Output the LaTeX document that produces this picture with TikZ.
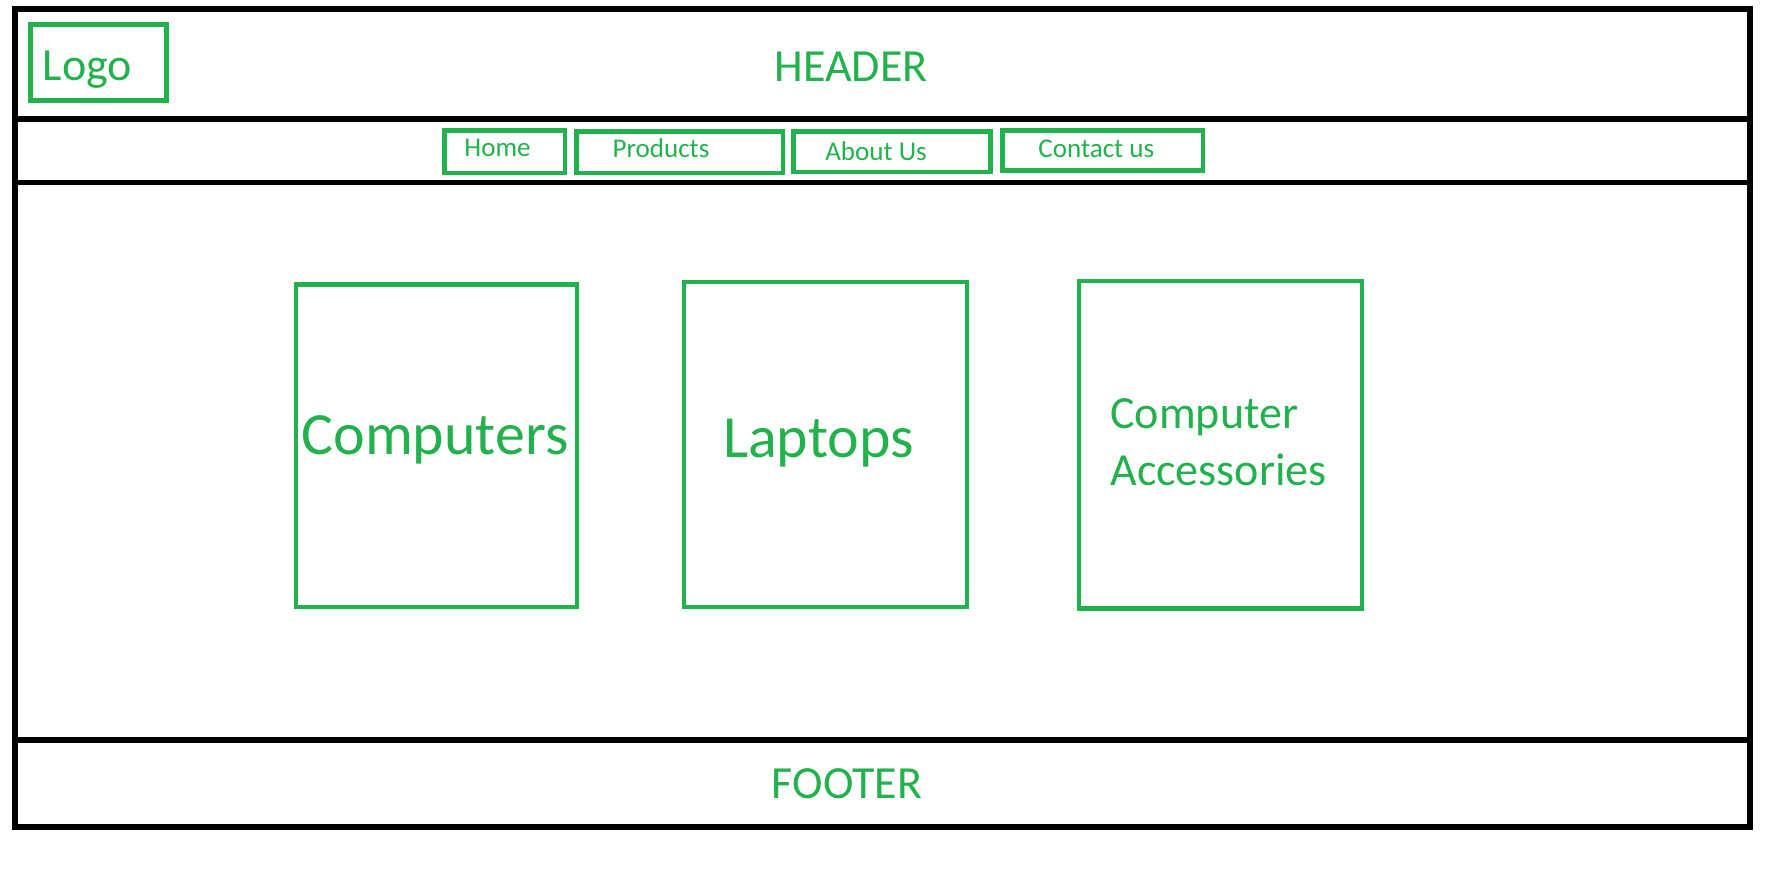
\documentclass[tikz,border=0pt]{standalone}
\usepackage{fontspec}
\setmainfont{Carlito}
\usepackage{xcolor}
\usetikzlibrary{positioning}

\definecolor{paintgreen}{RGB}{34,177,76}
\newcommand{\navsize}{\fontsize{15.4pt}{18pt}\selectfont}
\newcommand{\midsize}{\fontsize{26.2pt}{32.4pt}\selectfont}
\newcommand{\bigsize}{\fontsize{34.1pt}{40pt}\selectfont}

\begin{document}
\begin{tikzpicture}[x=0.02cm,y=-0.02cm,
  frame/.style={line width=3.4pt},
  gbox/.style={draw=paintgreen,line width=2.5pt},
  gtext/.style={text=paintgreen,inner sep=0pt,anchor=base},
  navtext/.style={gtext,font=\navsize},
  midtext/.style={gtext,font=\midsize},
  bigtext/.style={gtext,font=\bigsize}]

\useasboundingbox (0,0) rectangle (1789,870);

% page frame
\draw[frame] (15,9) rectangle (1750,827);
\draw[frame] (15,119.3) -- (1750,119.3);
\draw[frame] (15,182.5) -- (1750,182.5);
\draw[frame] (15,739.7) -- (1750,739.7);

% header
\draw[gbox] (30.5,24.5) rectangle (166.5,100.5);
\node[midtext] (logo) at (87.5,80) {Logo};
\node[midtext] (header) at (851,81.7) {HEADER};

% menu
\draw[gbox] (444.3,130.3) rectangle (564.8,172.8);
\node[navtext] (home) at (497.5,156) {Home};

\draw[gbox] (576.3,131.3) rectangle (782.7,173);
\node[navtext] (products) at (661,157.7) {Products};

\draw[gbox] (793.3,131.3) rectangle (990.4,172);
\node[navtext] (about) at (876,160) {About Us};

\draw[gbox] (1002.3,130.3) rectangle (1202.7,170.4);
\node[navtext] (contact) at (1096.3,157.3) {Contact us};

% content
\draw[gbox] (296,284.5) rectangle (576.7,606.7);
\node[bigtext] (computers) at (435,454) {Computers};

\draw[gbox] (684,282) rectangle (966.7,606.7);
\node[bigtext] (laptops) at (818.5,457) {Laptops};

\draw[gbox] (1079,281) rectangle (1362,608.6);
\node[midtext,anchor=west,align=left] (accessories) at (1110,442.5) {Computer\\Accessories};

% footer
\node[midtext] (footer) at (847,798) {FOOTER};

\end{tikzpicture}
\end{document}
